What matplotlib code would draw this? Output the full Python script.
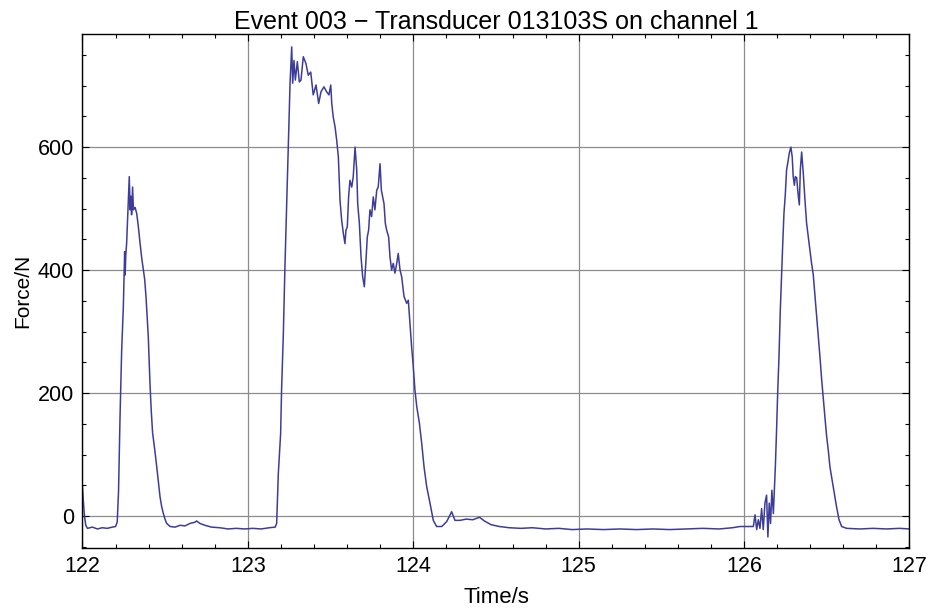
import matplotlib
matplotlib.use('Agg')
from matplotlib import pyplot as plt
from matplotlib.ticker import MultipleLocator

plt.rcParams['font.family'] = ['Liberation Sans', 'DejaVu Sans']

# force trace (time in s, force in N)
time_s = [
    122.000, 122.005, 122.012, 122.020, 122.030, 122.060, 122.090, 122.120, 122.150, 122.180,
    122.200, 122.210, 122.218, 122.227, 122.237, 122.247, 122.252, 122.255, 122.258, 122.262,
    122.267, 122.277, 122.283, 122.288, 122.292, 122.297, 122.303, 122.308, 122.318, 122.328,
    122.338, 122.348, 122.358, 122.368, 122.376, 122.384, 122.392, 122.398, 122.408, 122.416,
    122.424, 122.436, 122.449, 122.459, 122.469, 122.479, 122.489, 122.499, 122.509, 122.530,
    122.560, 122.590, 122.620, 122.650, 122.680, 122.690, 122.710, 122.740, 122.780, 122.830,
    122.880, 122.930, 122.980, 123.030, 123.080, 123.130, 123.165, 123.174, 123.184, 123.198,
    123.204, 123.214, 123.224, 123.235, 123.244, 123.255, 123.265, 123.271, 123.279, 123.287,
    123.299, 123.311, 123.321, 123.335, 123.351, 123.365, 123.380, 123.395, 123.412, 123.428,
    123.442, 123.460, 123.476, 123.490, 123.501, 123.507, 123.516, 123.527, 123.537, 123.547,
    123.557, 123.567, 123.577, 123.587, 123.593, 123.601, 123.609, 123.617, 123.628, 123.637,
    123.648, 123.658, 123.664, 123.674, 123.684, 123.694, 123.704, 123.714, 123.722, 123.730,
    123.738, 123.748, 123.758, 123.768, 123.779, 123.788, 123.799, 123.807, 123.815, 123.823,
    123.831, 123.839, 123.851, 123.859, 123.869, 123.879, 123.889, 123.900, 123.909, 123.920,
    123.930, 123.944, 123.960, 123.970, 123.980, 123.990, 124.000, 124.010, 124.021, 124.037,
    124.051, 124.065, 124.081, 124.101, 124.121, 124.141, 124.172, 124.202, 124.232, 124.252,
    124.282, 124.320, 124.360, 124.400, 124.430, 124.470, 124.520, 124.580, 124.650, 124.720,
    124.800, 124.880, 124.960, 125.050, 125.150, 125.250, 125.350, 125.450, 125.550, 125.650,
    125.750, 125.850, 125.930, 125.975, 126.056, 126.066, 126.076, 126.086, 126.096, 126.106,
    126.116, 126.126, 126.136, 126.144, 126.152, 126.160, 126.168, 126.177, 126.183, 126.189,
    126.197, 126.203, 126.211, 126.219, 126.227, 126.233, 126.241, 126.249, 126.257, 126.267,
    126.273, 126.283, 126.291, 126.297, 126.304, 126.310, 126.318, 126.326, 126.334, 126.340,
    126.348, 126.358, 126.368, 126.378, 126.388, 126.398, 126.408, 126.418, 126.428, 126.439,
    126.449, 126.459, 126.469, 126.479, 126.489, 126.499, 126.509, 126.519, 126.529, 126.543,
    126.559, 126.574, 126.590, 126.620, 126.700, 126.780, 126.860, 126.940, 127.000,
]
force_n = [
    47, 25, 0, -15, -20, -18, -21, -19, -20, -18,
    -17, -10, 40, 161, 270, 340, 395, 430, 392, 425,
    444, 514, 552, 498, 520, 490, 535, 498, 502, 492,
    470, 444, 420, 400, 385, 357, 320, 291, 216, 170,
    135, 110, 80, 55, 31, 15, 4, -5, -12, -17,
    -18, -15, -16, -12, -10, -8, -12, -15, -18, -19,
    -21, -20, -21, -20, -21, -19, -18, -12, 69, 134,
    208, 292, 405, 509, 600, 704, 763, 704, 741, 709,
    739, 706, 709, 747, 736, 717, 722, 685, 701, 671,
    690, 698, 690, 685, 701, 671, 649, 633, 611, 584,
    514, 481, 460, 443, 465, 470, 519, 546, 535, 552,
    600, 563, 508, 476, 422, 389, 373, 416, 454, 465,
    498, 487, 519, 498, 530, 535, 573, 530, 519, 508,
    476, 465, 454, 422, 400, 411, 395, 411, 427, 400,
    389, 357, 346, 351, 313, 275, 243, 205, 178, 151,
    118, 80, 48, 21, -7, -17, -17, -9, 7, -7,
    -7, -5, -6, -2, -8, -14, -17, -19, -20, -19,
    -21, -20, -22, -21, -22, -21, -22, -21, -22, -21,
    -20, -21, -19, -17, -17, 2, -22, -6, -20, 12,
    -22, 21, 34, -34, 21, -12, 42, 4, 42, 80,
    145, 200, 259, 335, 395, 438, 492, 522, 563, 579,
    590, 600, 584, 552, 538, 552, 550, 525, 506, 563,
    592, 557, 514, 476, 454, 433, 411, 393, 360, 325,
    290, 258, 222, 190, 160, 130, 107, 80, 64, 42,
    15, -6, -17, -20, -21, -20, -21, -20, -21,
]

fig = plt.figure(figsize=(9.33, 6.10), dpi=100)
ax = fig.add_axes([0.0884, 0.1016, 0.8864, 0.8427])

ax.plot(time_s, force_n, color='#3d3d99', lw=1.1)

ax.set_xlim(122, 127)
ax.set_ylim(-52, 784)
ax.xaxis.set_major_locator(MultipleLocator(1))
ax.xaxis.set_minor_locator(MultipleLocator(0.2))
ax.yaxis.set_major_locator(MultipleLocator(200))
ax.yaxis.set_minor_locator(MultipleLocator(50))
ax.grid(True, which='major', color='#8c8c8c', lw=0.9)
ax.tick_params(which='both', direction='in', top=True, right=True, labelsize=15.5, width=0.8)
ax.tick_params(which='major', length=5, pad=6)
ax.tick_params(which='minor', length=3)
for s in ax.spines.values():
    s.set_linewidth(1.0)

ax.set_title('Event 003 \u2212 Transducer 013103S on channel 1', fontsize=18, pad=3)
ax.set_xlabel('Time/s', fontsize=16, labelpad=7)
ax.set_ylabel('Force/N', fontsize=15, labelpad=4)

fig.savefig('out.png', dpi=100)
